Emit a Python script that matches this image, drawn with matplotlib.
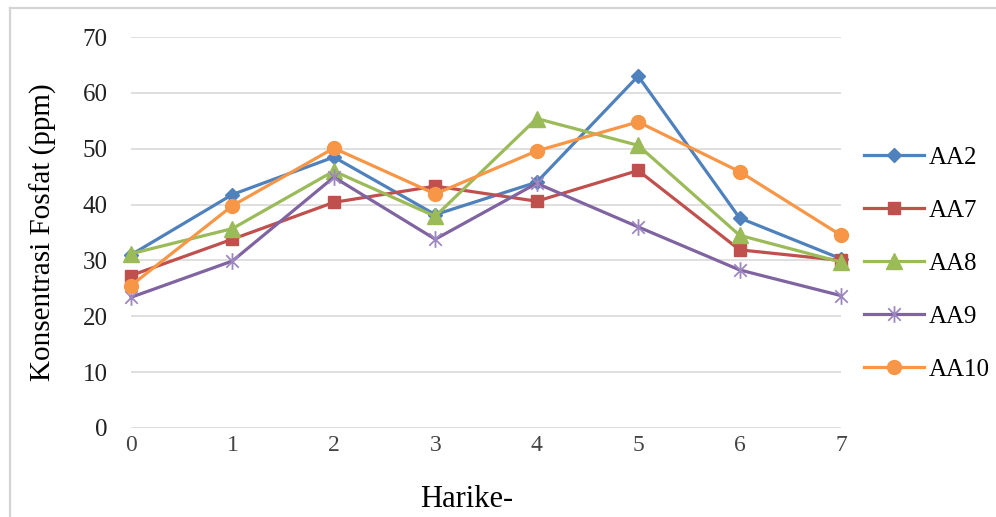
import matplotlib
matplotlib.use("Agg")
from matplotlib import pyplot as plt
from matplotlib.path import Path
from matplotlib.lines import Line2D

# data
days = [0, 1, 2, 3, 4, 5, 6, 7]
aa2 = [31.0, 41.8, 48.5, 38.2, 44.0, 63.0, 37.6, 30.3]
aa7 = [27.3, 33.8, 40.4, 43.3, 40.6, 46.1, 31.9, 30.0]
aa8 = [31.2, 35.7, 46.0, 37.9, 55.4, 50.6, 34.5, 29.7]
aa9 = [23.4, 29.9, 44.9, 33.8, 43.8, 36.0, 28.3, 23.7]
aa10 = [25.5, 39.8, 50.1, 41.9, 49.6, 54.8, 45.9, 34.5]
series_names = ["AA2", "AA7", "AA8", "AA9", "AA10"]
y_ticks = [0, 10, 20, 30, 40, 50, 60, 70]

plt.rcParams['font.family'] = ['Liberation Serif', 'DejaVu Serif']

# asterisk marker like the excel "star" (x plus vertical bar)
d = 0.75
star = Path([(0, -1), (0, 1), (-d, -d), (d, d), (-d, d), (d, -d)],
            [Path.MOVETO, Path.LINETO, Path.MOVETO, Path.LINETO, Path.MOVETO, Path.LINETO])

styles = [
    dict(color="#4F81BD", marker="D", markersize=7),
    dict(color="#C0504D", marker="s", markersize=9),
    dict(color="#9BBB59", marker="^", markersize=11),
    dict(color="#8064A2", marker=star, markersize=12, markeredgecolor="#9d87c0", markeredgewidth=1.3),
    dict(color="#F79646", marker="o", markersize=10),
]

fig = plt.figure(figsize=(9.96, 5.17), dpi=100)
ax = fig.add_axes([131 / 996, 1 - 428 / 517, 710 / 996, 391 / 517])

for name, vals, st in zip(series_names, [aa2, aa7, aa8, aa9, aa10], styles):
    ax.plot(days, vals, label=name, linewidth=2.3, clip_on=False, zorder=3, **st)

ax.set_xlim(0, 7)
ax.set_ylim(0, 70)
ax.set_yticks(y_ticks)
ax.set_xticks(days)
ax.grid(axis="y", color="#d9d9d9", linewidth=1.2)
ax.set_axisbelow(True)
for s in ax.spines.values():
    s.set_visible(False)
ax.tick_params(axis="y", length=0, pad=17, labelsize=18, labelcolor="#222222")
ax.tick_params(axis="x", length=0, pad=5, labelsize=17, labelcolor="#444444")

ax.set_ylabel("Konsentrasi Fosfat (ppm)", fontsize=21)
ax.yaxis.set_label_coords(-0.104, 0.5)
ax.set_xlabel("Harike-", fontsize=22)
ax.xaxis.set_label_coords(0.473, -0.145)

ax.legend(loc="center left", bbox_to_anchor=(1.0, 0.42), frameon=False,
          fontsize=18, handlelength=2.4, labelspacing=1.22, handletextpad=0.2)

# light frame around the chart area (top and left edges visible in reference)
fig.add_artist(Line2D([10 / 996, 10 / 996], [0, 1 - 8 / 517], color="#d4d4d4", linewidth=1.6))
fig.add_artist(Line2D([10 / 996, 1], [1 - 8 / 517, 1 - 8 / 517], color="#d4d4d4", linewidth=1.6))

fig.savefig("out.png", dpi=100)
